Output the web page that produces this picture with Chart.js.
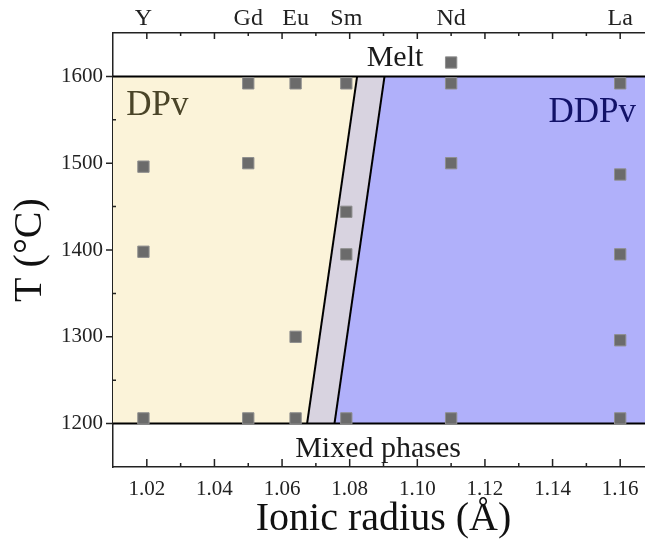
<!DOCTYPE html>
<html>
<head>
<meta charset="utf-8">
<script src="https://cdn.jsdelivr.net/npm/chart.js@4.4.1/dist/chart.umd.min.js"></script>
<style>
  html, body { margin: 0; padding: 0; background: #fff; overflow: hidden; }
  canvas { display: block; }
</style>
</head>
<body>
<canvas id="phaseChart" width="663" height="540"></canvas>
<script>
// cations on the top axis and their ionic radius (Å)
const elements = ["Y", "Gd", "Eu", "Sm", "Nd", "La"];
const radius = [1.019, 1.050, 1.064, 1.079, 1.110, 1.160];

// temperatures (°C) of the experiments for each cation
const tY = [1206, 1398, 1496];
const tGd = [1206, 1500, 1592];
const tEu = [1206, 1300, 1592];
const tSm = [1206, 1395, 1444, 1592];
const tNd = [1206, 1500, 1592, 1616];
const tLa = [1206, 1296, 1395, 1487, 1592];
const temps = [tY, tGd, tEu, tSm, tNd, tLa];

// phase boundaries: radius at 1200 °C and at 1600 °C
const boundaryT = [1200, 1600];
const dpvEdge = [1.0674, 1.0822];
const ddpvEdge = [1.0755, 1.0903];

const xTicks = [1.02, 1.04, 1.06, 1.08, 1.10, 1.12, 1.14, 1.16];
const yTicks = [1200, 1300, 1400, 1500, 1600];

const X_MIN = 1.01, X_MAX = 1.17, Y_MIN = 1150, Y_MAX = 1650;
const SERIF = "'Liberation Serif', 'Times New Roman', serif";

const points = [];
radius.forEach((r, i) => temps[i].forEach((t) => points.push({ x: r, y: t })));

const [tLow, tHigh] = boundaryT;

function line(data, color, width) {
  return { data, showLine: true, borderColor: color, borderWidth: width, pointRadius: 0, fill: false };
}
function area(data, color) {
  return { data, showLine: true, borderColor: "transparent", borderWidth: 0, pointRadius: 0, fill: "shape", backgroundColor: color };
}

const decorations = {
  id: "decorations",
  afterDatasetsDraw(chart) {
    const { ctx } = chart;
    const x = chart.scales.x, y = chart.scales.y;
    ctx.save();
    ctx.textBaseline = "alphabetic";
    ctx.font = "35px " + SERIF;
    ctx.fillStyle = "#4a4428";
    ctx.textAlign = "left";
    ctx.fillText("DPv", x.getPixelForValue(1.0139), y.getPixelForValue(1556));
    ctx.fillStyle = "#121268";
    ctx.textAlign = "right";
    ctx.fillText("DDPv", x.getPixelForValue(1.1647), y.getPixelForValue(1547));
    ctx.font = "30px " + SERIF;
    ctx.fillStyle = "#1a1a1a";
    ctx.textAlign = "center";
    ctx.fillText("Melt", x.getPixelForValue(1.0934), y.getPixelForValue(1612));
    ctx.fillText("Mixed phases", x.getPixelForValue(1.0884), y.getPixelForValue(1161));
    ctx.restore();
  },
  afterDraw(chart) {
    const { ctx, chartArea: a } = chart;
    const x = chart.scales.x, y = chart.scales.y;
    ctx.save();
    ctx.strokeStyle = "#222";
    ctx.lineWidth = 1.5;
    ctx.beginPath();
    for (let k = 102; k <= 116; k++) {
      const px = x.getPixelForValue(k / 100);
      const major = k % 2 === 0;
      ctx.moveTo(px, a.bottom);
      ctx.lineTo(px, a.bottom - (major ? 8 : 4));
      ctx.moveTo(px, a.top);
      ctx.lineTo(px, a.top + (major ? 6 : 3));
    }
    for (let t = 1200; t <= 1600; t += 50) {
      const py = y.getPixelForValue(t);
      const major = t % 100 === 0;
      ctx.moveTo(a.left, py);
      ctx.lineTo(major ? a.left - 7 : a.left + 3, py);
      ctx.moveTo(a.right, py);
      ctx.lineTo(a.right - (major ? 9 : 4), py);
    }
    ctx.moveTo(a.right, a.top);
    ctx.lineTo(a.right, a.bottom);
    ctx.stroke();
    ctx.restore();
  }
};

const tickFont = { family: SERIF, size: 21 };
const titleFont = { family: SERIF, size: 40 };

new Chart(document.getElementById("phaseChart"), {
  type: "scatter",
  data: {
    datasets: [
      {
        data: points,
        pointStyle: "rect",
        pointRadius: 8,
        pointHoverRadius: 8,
        backgroundColor: "#6b6b6b",
        borderColor: "#8f8f8f",
        borderWidth: 1
      },
      line([{ x: dpvEdge[0], y: tLow }, { x: dpvEdge[1], y: tHigh }], "#000", 2),
      line([{ x: ddpvEdge[0], y: tLow }, { x: ddpvEdge[1], y: tHigh }], "#000", 2),
      line([{ x: X_MIN, y: tLow }, { x: X_MAX, y: tLow }], "#000", 2),
      line([{ x: X_MIN, y: tHigh }, { x: X_MAX, y: tHigh }], "#000", 2),
      area([{ x: X_MIN, y: tLow }, { x: dpvEdge[0], y: tLow }, { x: dpvEdge[1], y: tHigh }, { x: X_MIN, y: tHigh }], "rgb(251,243,217)"),
      area([{ x: dpvEdge[0], y: tLow }, { x: ddpvEdge[0], y: tLow }, { x: ddpvEdge[1], y: tHigh }, { x: dpvEdge[1], y: tHigh }], "rgb(216,211,224)"),
      area([{ x: ddpvEdge[0], y: tLow }, { x: X_MAX, y: tLow }, { x: X_MAX, y: tHigh }, { x: ddpvEdge[1], y: tHigh }], "rgb(176,176,250)")
    ]
  },
  options: {
    responsive: false,
    animation: false,
    layout: { padding: { left: 0, right: 2, top: 0, bottom: 0 } },
    plugins: {
      legend: { display: false },
      tooltip: { enabled: false }
    },
    scales: {
      x: {
        type: "linear",
        position: "bottom",
        min: X_MIN,
        max: X_MAX,
        afterBuildTicks: (s) => { s.ticks = xTicks.map((v) => ({ value: v })); },
        afterFit: (s) => { s.height = 73; },
        ticks: {
          autoSkip: false,
          maxRotation: 0,
          padding: 10,
          color: "#222",
          font: tickFont,
          callback: (v) => Number(v).toFixed(2)
        },
        grid: { display: false, drawTicks: false },
        border: { display: true, color: "#222", width: 1.5 },
        title: { display: true, text: "Ionic radius (Å)", color: "#111", font: titleFont, padding: { top: 0, bottom: -3 } }
      },
      xTop: {
        type: "linear",
        position: "top",
        min: X_MIN,
        max: X_MAX,
        afterBuildTicks: (s) => { s.ticks = radius.map((v) => ({ value: v })); },
        afterFit: (s) => { s.height = 33; },
        ticks: {
          autoSkip: false,
          maxRotation: 0,
          padding: 0,
          color: "#222",
          font: { family: SERIF, size: 24 },
          callback: (v) => elements[radius.indexOf(v)]
        },
        grid: { display: false, drawTicks: false },
        border: { display: true, color: "#222", width: 1.5 }
      },
      y: {
        type: "linear",
        position: "left",
        min: Y_MIN,
        max: Y_MAX,
        afterBuildTicks: (s) => { s.ticks = yTicks.map((v) => ({ value: v })); },
        afterFit: (s) => { s.width = 113; },
        ticks: {
          padding: 10,
          color: "#222",
          font: tickFont,
          callback: (v) => String(v)
        },
        grid: { display: false, drawTicks: false },
        border: { display: true, color: "#222", width: 1.5 },
        title: { display: true, text: "T (°C)", color: "#111", font: titleFont, padding: { top: 6, bottom: 0 } }
      }
    }
  },
  plugins: [decorations]
});
</script>
</body>
</html>
